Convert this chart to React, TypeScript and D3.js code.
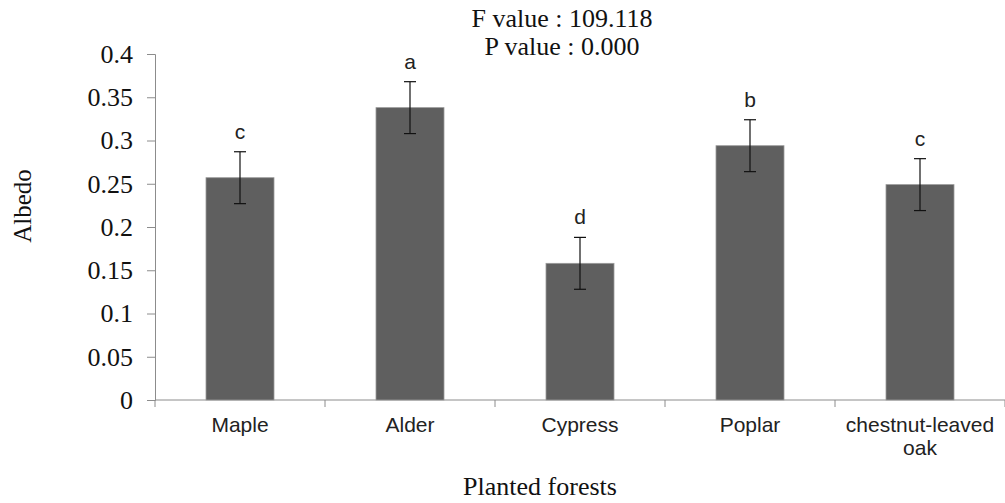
import { useEffect, useRef } from 'react'
import * as d3 from 'd3'

const categories = ['Maple', 'Alder', 'Cypress', 'Poplar', 'chestnut-leaved oak']
const albedo = [0.257, 0.338, 0.158, 0.294, 0.249]
const errors = [0.03, 0.03, 0.03, 0.03, 0.03]
const letters = ['c', 'a', 'd', 'b', 'c']
const yTicks = [0, 0.05, 0.1, 0.15, 0.2, 0.25, 0.3, 0.35, 0.4]

const W = 1005
const H = 503
const margin = { top: 54, right: 0, bottom: 103, left: 155 }

const App = () => {
  const svgRef = useRef<SVGSVGElement | null>(null)

  useEffect(() => {
    if (!svgRef.current) return
    const svg = d3.select(svgRef.current)
    svg.selectAll('*').remove()

    const width = W - margin.left - margin.right
    const height = H - margin.top - margin.bottom
    const serif = '"Liberation Serif", "Times New Roman", serif'
    const sans = '"Liberation Sans", Arial, sans-serif'

    const x = d3.scaleBand().domain(categories).range([0, width]).paddingInner(0.6).paddingOuter(0.3)
    const y = d3.scaleLinear().domain([0, 0.4]).range([height, 0])

    const g = svg.append('g').attr('transform', `translate(${margin.left},${margin.top})`)

    // y axis
    const yAxis = g.append('g').call(
      d3.axisLeft(y).tickValues(yTicks).tickSize(8).tickPadding(14).tickFormat(d => String(+d))
    )
    yAxis.select('.domain').attr('stroke', '#8c8c8c')
    yAxis.selectAll('.tick line').attr('stroke', '#8c8c8c')
    yAxis.selectAll('.tick text')
      .attr('font-family', serif)
      .attr('font-size', 26)
      .attr('fill', '#111')

    // x axis baseline and ticks between bands
    const step = x.step()
    g.append('line')
      .attr('x1', 0).attr('x2', width)
      .attr('y1', height).attr('y2', height)
      .attr('stroke', '#8c8c8c')
    d3.range(categories.length + 1).forEach(i => {
      g.append('line')
        .attr('x1', i * step).attr('x2', i * step)
        .attr('y1', height).attr('y2', height + 7)
        .attr('stroke', '#8c8c8c')
    })

    // bars
    g.selectAll('rect.bar')
      .data(categories)
      .enter()
      .append('rect')
      .attr('class', 'bar')
      .attr('x', d => x(d)!)
      .attr('y', (_, i) => y(albedo[i]))
      .attr('width', x.bandwidth())
      .attr('height', (_, i) => height - y(albedo[i]))
      .attr('fill', '#5f5f5f')
      .attr('stroke', '#9a9a9a')
      .attr('stroke-width', 0.8)

    // error bars + letters
    categories.forEach((c, i) => {
      const cx = x(c)! + x.bandwidth() / 2
      const top = y(albedo[i] + errors[i])
      const bot = y(albedo[i] - errors[i])
      const eg = g.append('g').attr('stroke', '#111').attr('stroke-width', 1.2)
      eg.append('line').attr('x1', cx).attr('x2', cx).attr('y1', top).attr('y2', bot)
      eg.append('line').attr('x1', cx - 6).attr('x2', cx + 6).attr('y1', top).attr('y2', top)
      eg.append('line').attr('x1', cx - 6).attr('x2', cx + 6).attr('y1', bot).attr('y2', bot)

      g.append('text')
        .attr('x', cx)
        .attr('y', top - 13)
        .attr('text-anchor', 'middle')
        .attr('font-family', sans)
        .attr('font-size', 21)
        .attr('fill', '#222')
        .text(letters[i])
    })

    // category labels
    categories.forEach(c => {
      const cx = x(c)! + x.bandwidth() / 2
      const words = c === 'chestnut-leaved oak' ? ['chestnut-leaved', 'oak'] : [c]
      const t = g.append('text')
        .attr('text-anchor', 'middle')
        .attr('font-family', sans)
        .attr('font-size', 21)
        .attr('fill', '#222')
      words.forEach((w, k) => {
        t.append('tspan').attr('x', cx).attr('y', height + 32 + k * 23).text(w)
      })
    })

    svg.append('text')
      .attr('x', 562).attr('y', 27)
      .attr('text-anchor', 'middle')
      .attr('font-family', serif).attr('font-size', 26).attr('fill', '#111')
      .text('F value : 109.118')
    svg.append('text')
      .attr('x', 562).attr('y', 55)
      .attr('text-anchor', 'middle')
      .attr('font-family', serif).attr('font-size', 26).attr('fill', '#111')
      .text('P value : 0.000')

    svg.append('text')
      .attr('x', 540).attr('y', 495)
      .attr('text-anchor', 'middle')
      .attr('font-family', serif).attr('font-size', 26).attr('fill', '#111')
      .text('Planted forests')

    svg.append('text')
      .attr('transform', `translate(31,206) rotate(-90)`)
      .attr('text-anchor', 'middle')
      .attr('font-family', serif).attr('font-size', 25).attr('fill', '#111')
      .text('Albedo')
  }, [])

  return (
    <svg
      ref={svgRef}
      width={W}
      height={H}
      style={{ position: 'absolute', left: 0, top: 0, background: 'white' }}
    />
  )
}

export default App
